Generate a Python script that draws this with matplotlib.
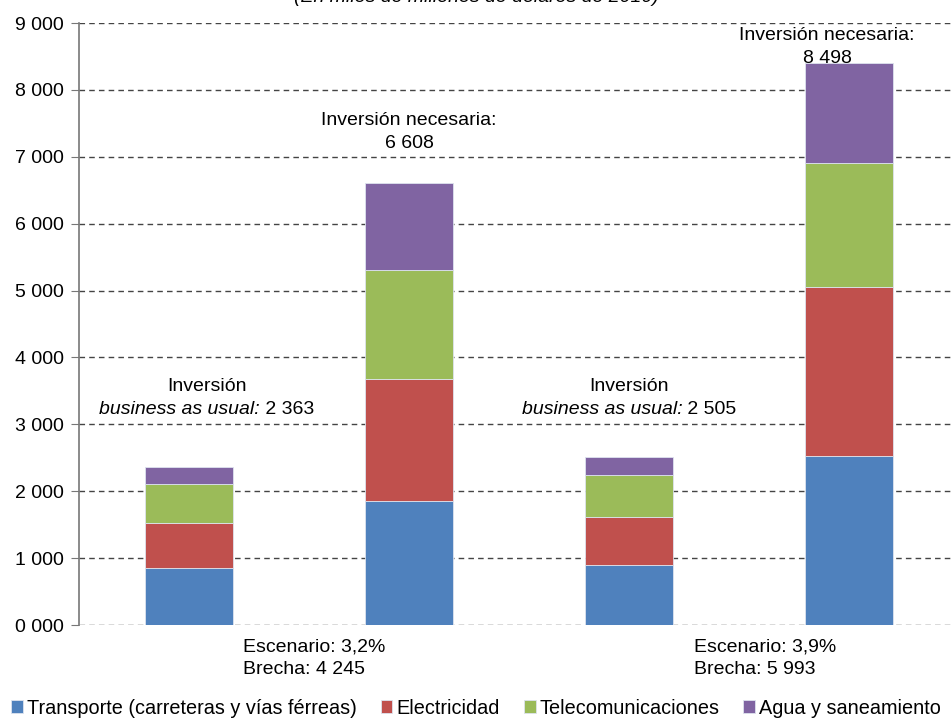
import numpy as np
import matplotlib
matplotlib.use("Agg")
import matplotlib.pyplot as plt
from matplotlib.ticker import FuncFormatter

plt.rcParams['font.family'] = ['Liberation Sans', 'DejaVu Sans']

# data (miles de millones de dólares de 2010)
bars = ['bau_32', 'nec_32', 'bau_39', 'nec_39']
transporte = [856, 1850, 900, 2530]
electricidad = [669, 1830, 715, 2520]
telecom = [585, 1620, 625, 1850]
agua = [253, 1308, 265, 1500]
series = ['Transporte (carreteras y vías férreas)', 'Electricidad',
          'Telecomunicaciones', 'Agua y saneamiento']
colors = ['#4F81BD', '#C0504D', '#9BBB59', '#8064A2']
bau_labels = ['2 363', '2 505']
nec_labels = ['6 608', '8 498']
escenarios = ['3,2%', '3,9%']
brechas = ['4 245', '5 993']

W, H = 952, 720
fig = plt.figure(figsize=(W/100, H/100), dpi=100)
# axes in pixel terms: left 79, right 959, top 23, bottom 625
ax = fig.add_axes([79/W, (H-625)/H, 880/W, 602/H])

x = np.arange(len(bars))
bottom = np.zeros(len(bars))
for vals, col, name in zip([transporte, electricidad, telecom, agua], colors, series):
	ax.bar(x, vals, 0.4, bottom=bottom, color=col, edgecolor='#dde3ee',
		linewidth=0.6, label=name, zorder=3)
	bottom += np.array(vals)

ax.set_xlim(-0.5, 3.5)
ax.set_ylim(0, 9000)
ax.set_yticks(np.arange(0, 9001, 1000))
ax.yaxis.set_major_formatter(FuncFormatter(lambda v, p: "%d %03d" % (int(v)//1000, int(v) % 1000)))
ax.grid(axis='y', linestyle=(0, (4, 3)), color='#444444', linewidth=1.0, zorder=0)
ax.set_xticks([])
for s in ['top', 'right', 'bottom']:
	ax.spines[s].set_visible(False)
ax.spines['left'].set_color('#777777')
ax.spines['left'].set_linewidth(1.2)
ax.tick_params(axis='y', direction='out', length=6, color='#777777', labelsize=14, pad=5)

fs = 14
# "Inversión business as usual" labels
fig.canvas.draw()
rend = fig.canvas.get_renderer()
for cx, num in zip([0.08, 2.0], bau_labels):
	ax.text(cx, 3505, 'Inversión', ha='center', va='baseline', fontsize=fs)
	t1 = ax.text(0, 0, 'business as usual:', style='italic', fontsize=fs)
	t2 = ax.text(0, 0, ' ' + num, fontsize=fs)
	w1 = t1.get_window_extent(rend).width
	w2 = t2.get_window_extent(rend).width
	px_per_unit = 880 / 4.0
	left = cx - (w1 + w2) / 2 / px_per_unit
	t1.set_position((left, 3155))
	t1.set_va('baseline')
	t2.set_position((left + w1 / px_per_unit, 3155))
	t2.set_va('baseline')

# "Inversión necesaria" labels
ax.text(1.0, 7470, 'Inversión necesaria:', ha='center', va='baseline', fontsize=fs)
ax.text(1.0, 7135, nec_labels[0], ha='center', va='baseline', fontsize=fs)
ax.text(2.9, 8745, 'Inversión necesaria:', ha='center', va='baseline', fontsize=fs)
ax.text(2.9, 8400, nec_labels[1], ha='center', va='baseline', fontsize=fs)

# scenario labels under the axis
for xl, esc, br in zip([0.245, 2.295], escenarios, brechas):
	ax.text(xl, -395, 'Escenario: ' + esc, ha='left', va='baseline', fontsize=fs, clip_on=False)
	ax.text(xl, -740, 'Brecha: ' + br, ha='left', va='baseline', fontsize=fs, clip_on=False)

# title (cut off at top of the image, as in the source)
fig.text(0.5, 1 - 2/H, '(En miles de millones de dólares de 2010)', ha='center',
	va='baseline', fontsize=fs, style='italic')

fig.legend(loc='center', bbox_to_anchor=(0.5, 1 - 708/H), ncol=4, frameon=False,
	fontsize=14.3, handlelength=0.6, handleheight=0.6, handletextpad=0.2,
	columnspacing=1.2, borderaxespad=0)

fig.savefig('out.png', dpi=100)
